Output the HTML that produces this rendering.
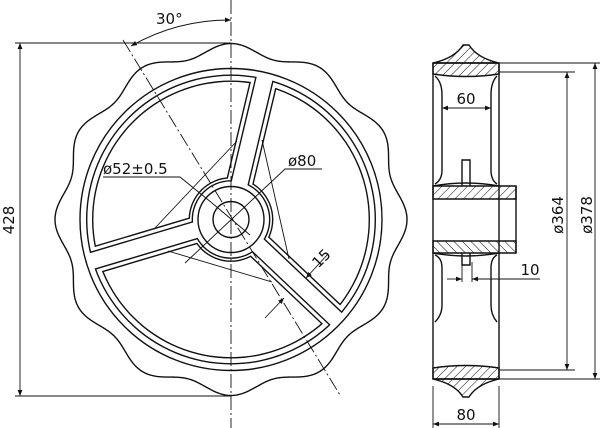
<!DOCTYPE html>
<html><head><meta charset="utf-8">
<style>
html,body{margin:0;padding:0;background:#fff}
svg{display:block}
text{font-family:"DejaVu Sans","Liberation Sans",sans-serif;font-size:15px;fill:#111}
</style></head><body>
<svg id="s" width="600" height="428" viewBox="0 0 600 428" xmlns="http://www.w3.org/2000/svg">
<defs>
<marker id="a" viewBox="0 0 10 10" refX="10" refY="5" markerWidth="9" markerHeight="6" orient="auto-start-reverse" markerUnits="userSpaceOnUse"><path d="M0,1 L10,5 L0,9 Z" fill="#111"/></marker>
<pattern id="h1" width="6" height="6" patternUnits="userSpaceOnUse" patternTransform="rotate(45)"><line x1="0" y1="0" x2="0" y2="6" stroke="#111" stroke-width="1"/></pattern>
<pattern id="h2" width="6" height="6" patternUnits="userSpaceOnUse" patternTransform="rotate(-45)"><line x1="0" y1="0" x2="0" y2="6" stroke="#111" stroke-width="1"/></pattern>
</defs>
<g id="g" fill="none" stroke="#111" stroke-width="1.4"></g>
<g id="cut"></g>
<g id="g2" fill="none" stroke="#111" stroke-width="1.4"></g>
<g fill="none" stroke="#111" stroke-width="0.9">
<line x1="231" y1="0" x2="231" y2="428" stroke-dasharray="14,3,2,3"/>
<line x1="123" y1="40" x2="340" y2="395" stroke-dasharray="14,3,2,3"/>
<line x1="15" y1="43" x2="231" y2="43"/>
<line x1="15" y1="396" x2="231" y2="396"/>
<line x1="20" y1="43" x2="20" y2="396" marker-start="url(#a)" marker-end="url(#a)"/>
<path d="M231,20 A200,200 0 0 0 131,46" marker-start="url(#a)" marker-end="url(#a)"/>
<line x1="237" y1="141" x2="155" y2="228"/>
<line x1="262" y1="140" x2="289" y2="259"/>
<line x1="168" y1="251" x2="272" y2="282"/>
<polyline points="103,177 180,177 212,203"/>
<line x1="212" y1="203" x2="250" y2="235"/>
<polyline points="322,169 285,169 185,263"/>
<line x1="328" y1="254" x2="306" y2="278" marker-end="url(#a)"/>
<line x1="265" y1="318" x2="284" y2="298" marker-end="url(#a)"/>
<line x1="499" y1="63" x2="600" y2="63"/>
<line x1="499" y1="72" x2="575" y2="72"/>
<line x1="499" y1="370" x2="575" y2="370"/>
<line x1="499" y1="379" x2="600" y2="379"/>
<line x1="595" y1="63" x2="595" y2="379" marker-start="url(#a)" marker-end="url(#a)"/>
<line x1="567" y1="72" x2="567" y2="370" marker-start="url(#a)" marker-end="url(#a)"/>
<line x1="442" y1="108" x2="491" y2="108" marker-start="url(#a)" marker-end="url(#a)"/>
<line x1="433" y1="386" x2="433" y2="428"/>
<line x1="499" y1="386" x2="499" y2="428"/>
<line x1="433" y1="424" x2="499" y2="424" marker-start="url(#a)" marker-end="url(#a)"/>
<line x1="462" y1="262" x2="462" y2="282"/>
<line x1="472" y1="262" x2="472" y2="282"/>
<line x1="447" y1="279" x2="462" y2="279" marker-end="url(#a)"/>
<line x1="540" y1="279" x2="472" y2="279" marker-end="url(#a)"/>
</g>
<g fill="none" stroke="#111" stroke-width="1.4">
<path d="M433,63 Q455,58 463,45 L469,45 Q477,58 499,63 Z" fill="url(#h1)"/>
<path d="M433,63 L499,63 L499,74 Q466,79 433,74 Z" fill="url(#h1)"/>
<path d="M433,379 Q455,384 463,397 L469,397 Q477,384 499,379 Z" fill="url(#h1)"/>
<path d="M433,379 L499,379 L499,368 Q466,363 433,368 Z" fill="url(#h1)"/>
<line x1="433" y1="63" x2="433" y2="379"/>
<line x1="499" y1="63" x2="499" y2="379"/>
<path d="M433,186 L516,186 L516,199 L433,199 Z" fill="url(#h1)"/>
<path d="M433,241 L516,241 L516,253 L433,253 Z" fill="url(#h2)"/>
<line x1="516" y1="186" x2="516" y2="253"/>
<path d="M433,186 Q466,180 499,186"/>
<path d="M433,253 Q466,259 499,253"/>
<path d="M462,186 L462,160 L470,160 L470,186"/>
<path d="M462,253 L462,265 L470,265 L470,253"/>
<path d="M435,76 Q442,82 442,95 L442,170 Q442,180 435,184"/>
<path d="M497,76 Q491,82 491,95 L491,170 Q491,180 497,184"/>
<path d="M435,255 Q442,258 442,268 L442,305 Q442,315 435,322"/>
<path d="M497,255 Q491,258 491,268 L491,305 Q491,315 497,322"/>
</g>
<text x="103" y="174">ø52±0.5</text>
<text x="288" y="166">ø80</text>
<text x="156" y="24">30°</text>
<text transform="translate(14,220) rotate(-90)" text-anchor="middle">428</text>
<text transform="translate(325,262) rotate(-45)" text-anchor="middle">15</text>
<text x="466" y="104" text-anchor="middle">60</text>
<text x="466" y="420" text-anchor="middle">80</text>
<text x="530" y="275" text-anchor="middle">10</text>
<text transform="translate(563,215) rotate(-90)" text-anchor="middle">ø364</text>
<text transform="translate(592,215) rotate(-90)" text-anchor="middle">ø378</text>
</svg>
<script>
(function(){
var cx=231,cy=219.5,g=document.getElementById('g'),g2=document.getElementById('g2'),cut=document.getElementById('cut'),NS='http://www.w3.org/2000/svg';
function el(n,a){var e=document.createElementNS(NS,n);for(var k in a)e.setAttribute(k,a[k]);return e;}
var p='';
for(var i=0;i<=720;i++){var t=i/720*2*Math.PI;var c=Math.cos(12*t);
var r=165+11*(c+1)/2;
var x=cx+r*Math.sin(t),y=cy-r*Math.cos(t);p+=(i?'L':'M')+x.toFixed(2)+','+y.toFixed(2);}
g.appendChild(el('path',{d:p+'Z'}));
g.appendChild(el('circle',{cx:cx,cy:cy,r:151}));
var angs=[13.4,133.4,253.4];
var defs=document.querySelector('defs');
function mask(id,r,w,hub){
 var m=el('mask',{id:id});m.appendChild(el('rect',{x:0,y:0,width:600,height:428,fill:'#000'}));
 m.appendChild(el('circle',{cx:cx,cy:cy,r:r,fill:'#fff'}));
 angs.forEach(function(a){m.appendChild(el('rect',{x:cx-w,y:cy-200,width:2*w,height:200,fill:'#000',transform:'rotate('+a+' '+cx+' '+cy+')'}));});
 m.appendChild(el('circle',{cx:cx,cy:cy,r:hub,fill:'#000'}));defs.appendChild(m);}
mask('m1',145,8,38);mask('m2',143.6,9.4,39.4);mask('m3',139,12.5,41);mask('m4',137.6,13.9,42.4);
[['m1','#111'],['m2','#fff'],['m3','#111'],['m4','#fff']].forEach(function(l){
 cut.appendChild(el('rect',{x:0,y:0,width:600,height:428,fill:l[1],mask:'url(#'+l[0]+')'}));});
g2.appendChild(el('circle',{cx:cx,cy:cy,r:33}));
g2.appendChild(el('circle',{cx:cx,cy:cy,r:18}));
})();
</script>
</body></html>
